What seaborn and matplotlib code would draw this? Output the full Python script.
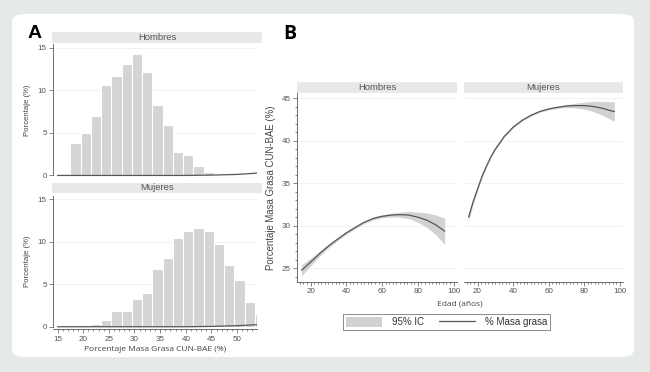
import numpy as np
import pandas as pd
import matplotlib
matplotlib.use("Agg")
import matplotlib.pyplot as plt
from matplotlib.patches import FancyBboxPatch, Patch
from matplotlib.lines import Line2D
from matplotlib.ticker import MultipleLocator
import seaborn as sns

# ---------------- DATA ----------------
# Panel A: histogram of % body fat (CUN-BAE), bins of width 2
bin_edges_hombres = [17.5, 19.5, 21.5, 23.5, 25.5, 27.5, 29.5, 31.5, 33.5, 35.5,
                     37.5, 39.5, 41.5, 43.5, 45.5, 47.5, 49.5]
pct_hombres = [3.8, 5.0, 7.0, 10.6, 11.7, 13.1, 14.2, 12.1, 8.3, 5.9,
               2.7, 2.35, 1.1, 0.4, 0.1, 0.05]

bin_edges_mujeres = [19.5, 21.5, 23.5, 25.5, 27.5, 29.5, 31.5, 33.5, 35.5, 37.5,
                     39.5, 41.5, 43.5, 45.5, 47.5, 49.5, 51.5, 53.5, 55.5]
pct_mujeres = [0.2, 0.3, 0.8, 1.9, 1.9, 3.3, 4.0, 6.8, 8.1, 10.4,
               11.2, 11.6, 11.2, 9.7, 7.2, 5.5, 2.9, 1.5]

# thin dark curve along the baseline
base_x = [15, 40, 45, 50, 54]
base_hombres = [0.0, 0.0, 0.04, 0.12, 0.27]
base_mujeres = [0.0, 0.0, 0.04, 0.12, 0.25]

# Panel B: fitted % body fat by age with 95% CI half-widths
edad_hombres = [15, 20, 25, 30, 35, 40, 45, 50, 55, 60, 65, 70, 75, 80, 85, 90, 95]
fit_hombres = [24.75, 25.7, 26.7, 27.6, 28.4, 29.15, 29.8, 30.4, 30.85, 31.1,
               31.25, 31.3, 31.25, 31.0, 30.65, 30.1, 29.35]
ci_hombres = [0.65, 0.45, 0.3, 0.22, 0.18, 0.16, 0.15, 0.15, 0.16, 0.18,
              0.22, 0.3, 0.42, 0.6, 0.85, 1.15, 1.55]

edad_mujeres = [15, 17.5, 20, 22.5, 25, 27.5, 30, 35, 40, 45, 50, 55, 60, 65, 70,
                75, 80, 85, 90, 95, 97]
fit_mujeres = [31.0, 32.8, 34.3, 35.8, 37.0, 38.1, 39.0, 40.5, 41.6, 42.4, 43.0,
               43.45, 43.75, 43.95, 44.1, 44.15, 44.15, 44.05, 43.85, 43.55, 43.45]
ci_mujeres = [0.45, 0.33, 0.25, 0.18, 0.15, 0.13, 0.12, 0.1, 0.1, 0.1, 0.1,
              0.1, 0.1, 0.12, 0.18, 0.28, 0.4, 0.6, 0.8, 1.05, 1.15]

strip_labels = ["Hombres", "Mujeres"]
legend_labels = ["95% IC", "% Masa grasa"]

# ---------------- STYLE ----------------
sns.set_theme(style="white")
plt.rcParams["font.family"] = ["Liberation Sans", "DejaVu Sans"]

TICK_FS = 5.8
LBL_FONT = ["Open Sans", "DejaVu Sans"]

W, H = 650, 372
fig = plt.figure(figsize=(W / 100, H / 100), dpi=100)
fig.patch.set_facecolor("#e5e9e8")

# white rounded card
card = FancyBboxPatch((12 / W, 1 - 357 / H), (634 - 12) / W, (357 - 14) / H,
                      boxstyle="round,pad=0,rounding_size=0.02",
                      transform=fig.transFigure, facecolor="white",
                      edgecolor="none", zorder=-10)
fig.patches.append(card)

TXT = "#555555"
BAR = "#d4d4d4"
LINE = "#555555"
BAND = "#d2d2d2"
GRID = "#efefef"


def px_axes(x0, y0, x1, y1, **kw):
    return fig.add_axes([x0 / W, 1 - y1 / H, (x1 - x0) / W, (y1 - y0) / H], **kw)


def strip(x0, y0, x1, y1, label):
    a = px_axes(x0, y0, x1, y1)
    a.set_facecolor("#e8e8e8")
    for s in a.spines.values():
        s.set_visible(False)
    a.set_xticks([])
    a.set_yticks([])
    a.text(0.5, 0.5, label, ha="center", va="center", fontsize=6.8,
           color=TXT, transform=a.transAxes)


def style_axes(a):
    a.set_facecolor("white")
    for s in a.spines.values():
        s.set_visible(False)
    a.tick_params(axis="both", which="major", length=3, width=0.5, color=TXT,
                  labelsize=TICK_FS, labelcolor=TXT, pad=1.5)
    a.tick_params(axis="both", which="minor", length=1.5, width=0.5, color=TXT)
    a.grid(False)


# ---------------- PANEL A ----------------
fig.text(28 / W, 1 - 34 / H, "A", fontsize=14, fontweight="bold",
         ha="left", va="center", color="black")

hist_specs = [
    (strip_labels[0], bin_edges_hombres, pct_hombres, base_hombres, 43.3, 178.0, 31.5, (-0.3, 15.5), False),
    (strip_labels[1], bin_edges_mujeres, pct_mujeres, base_mujeres, 193.3, 329.3, 182.5, (-0.3, 15.67), True),
]
for label, edges, vals, base, top, bot, stop, ylim, show_x in hist_specs:
    strip(52, stop, 262, top, label)
    ax = px_axes(53, top, 257, bot)
    style_axes(ax)
    centers = [(edges[i] + edges[i + 1]) / 2 for i in range(len(vals))]
    df = pd.DataFrame({"x": centers, "w": vals})
    for yv in [5, 10, 15]:
        ax.axhline(yv, color=GRID, lw=0.6, zorder=0)
    sns.histplot(data=df, x="x", weights="w", bins=edges, ax=ax,
                 color=BAR, edgecolor="white", linewidth=0.8, alpha=1, zorder=2)
    sns.lineplot(x=base_x, y=base, ax=ax, color=LINE, lw=0.9, zorder=3)
    ax.set_xlim(14.1, 53.9)
    ax.set_ylim(*ylim)
    ax.set_yticks([0, 5, 10, 15])
    ax.spines["left"].set_visible(True)
    ax.spines["left"].set_color(TXT)
    ax.spines["left"].set_linewidth(0.6)
    ax.spines["left"].set_bounds(0, 15.4)
    ax.tick_params(axis="y", left=True)
    ax.set_ylabel("Porcentaje (%)", fontsize=5.6, color="#444444", labelpad=5)
    ax.set_xlabel("")
    if show_x:
        ax.spines["bottom"].set_visible(True)
        ax.spines["bottom"].set_color(TXT)
        ax.spines["bottom"].set_linewidth(0.6)
        ax.set_xticks([15, 20, 25, 30, 35, 40, 45, 50])
        ax.xaxis.set_minor_locator(MultipleLocator(1))
        ax.tick_params(axis="x", which="both", bottom=True)
        ax.set_xlabel("Porcentaje Masa Grasa CUN-BAE (%)", fontsize=6.0,
                      color="#444444", family=LBL_FONT, labelpad=2.5)
    else:
        ax.set_xticks([])

# ---------------- PANEL B ----------------
fig.text(283 / W, 1 - 34 / H, "B", fontsize=14, fontweight="bold",
         ha="left", va="center", color="black", family=LBL_FONT)

fit_specs = [
    (strip_labels[0], edad_hombres, fit_hombres, ci_hombres, 297, 457, True),
    (strip_labels[1], edad_mujeres, fit_mujeres, ci_mujeres, 464, 623, False),
]
for label, edad, fit, ci, x0, x1, first in fit_specs:
    strip(x0, 81.7, x1, 93.3, label)
    ax = px_axes(x0, 93.3, x1, 281.7)
    style_axes(ax)
    for yv in [25, 30, 35, 40, 45]:
        ax.axhline(yv, color=GRID, lw=0.6, zorder=0)
    lo = [f - c for f, c in zip(fit, ci)]
    hi = [f + c for f, c in zip(fit, ci)]
    ax.fill_between(edad, lo, hi, color=BAND, lw=0, zorder=2)
    sns.lineplot(x=edad, y=fit, ax=ax, color=LINE, lw=0.9, zorder=3)
    ax.set_xlim(12.4, 101.9)
    ax.set_ylim(23.4, 45.6)
    ax.set_xticks([20, 40, 60, 80, 100])
    ax.xaxis.set_minor_locator(MultipleLocator(2))
    ax.spines["bottom"].set_visible(True)
    ax.spines["bottom"].set_color(TXT)
    ax.spines["bottom"].set_linewidth(0.6)
    ax.tick_params(axis="x", which="both", bottom=True)
    ax.set_xlabel("")
    ax.set_ylabel("")
    if first:
        ax.spines["left"].set_visible(True)
        ax.spines["left"].set_color(TXT)
        ax.spines["left"].set_linewidth(0.6)
        ax.set_yticks([25, 30, 35, 40, 45])
        ax.yaxis.set_minor_locator(MultipleLocator(1))
        ax.tick_params(axis="y", which="both", left=True)
        ax.set_ylabel("Porcentaje Masa Grasa CUN-BAE (%)", fontsize=6.9,
                      color="#444444", labelpad=4)
    else:
        ax.set_yticks([])

fig.text(460 / W, 1 - 304 / H, "Edad (años)", fontsize=6.0, color="#444444",
         ha="center", va="center", family=LBL_FONT)

handles = [Patch(facecolor=BAND, edgecolor="none"),
           Line2D([0], [0], color=LINE, lw=0.9)]
leg = fig.legend(handles, legend_labels, loc="center",
                 bbox_to_anchor=(446.5 / W, 1 - 322 / H), ncol=2,
                 fontsize=7, frameon=True, fancybox=False,
                 handlelength=3.7, handleheight=1.2, handletextpad=1.0,
                 columnspacing=1.6, borderpad=0.25, labelcolor="#333333")
leg.get_frame().set_edgecolor("#555555")
leg.get_frame().set_linewidth(0.6)

fig.savefig("out.png", dpi=100, facecolor=fig.get_facecolor())
